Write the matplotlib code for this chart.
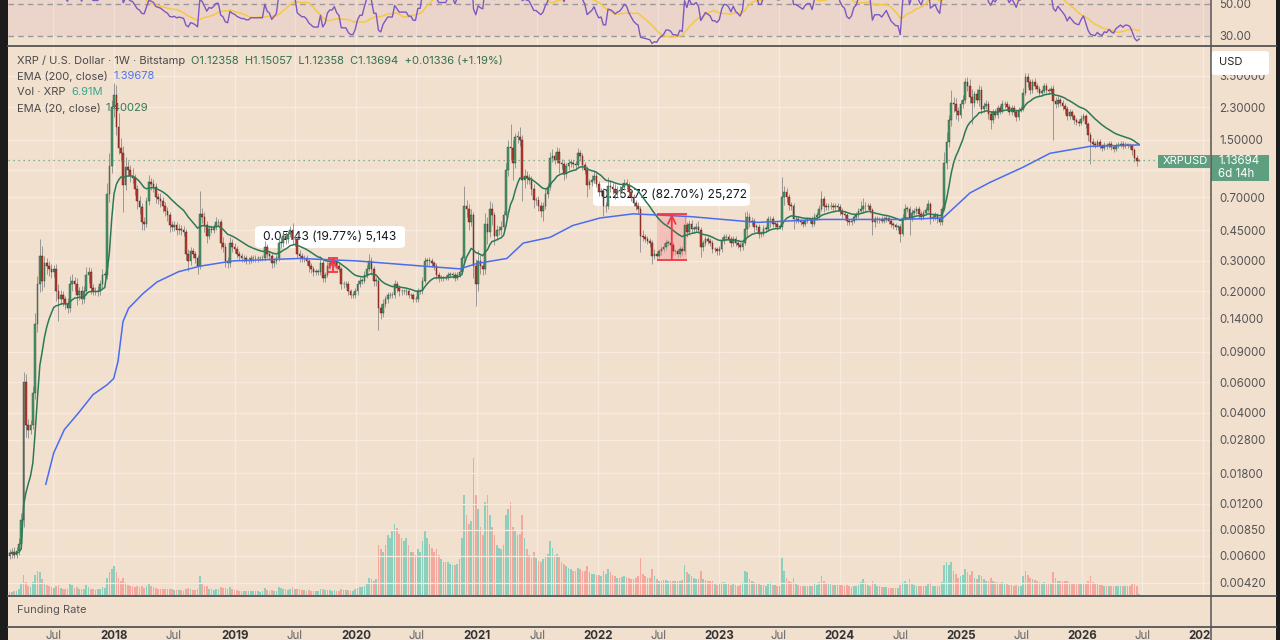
import numpy as np
import pandas as pd
import matplotlib
matplotlib.use("Agg")
import matplotlib.pyplot as plt
import matplotlib.dates as mdates
from matplotlib.patches import Rectangle, FancyBboxPatch
from matplotlib.ticker import NullLocator
from matplotlib.transforms import blended_transform_factory

plt.rcParams['font.family'] = ['Inter', 'DejaVu Sans']

# weekly candles, one tuple per week: (close, upper wick %, lower wick %, volume M XRP)
start_date = "2017-02-20"
first_open = 0.0060

w2017 = [(0.0062, 6, 4, 20), (0.0063, 5, 6, 22), (0.0061, 7, 5, 25), (0.0064, 5, 4, 30),
         (0.0070, 8, 5, 45), (0.0096, 10, 6, 80), (0.060, 15, 8, 140), (0.034, 12, 15, 90),
         (0.032, 8, 10, 60), (0.034, 7, 6, 55), (0.052, 10, 5, 90), (0.13, 15, 8, 140),
         (0.22, 12, 10, 170), (0.32, 25, 10, 160), (0.23, 15, 12, 110), (0.29, 10, 8, 80),
         (0.28, 8, 10, 70), (0.27, 7, 9, 60), (0.26, 6, 8, 55), (0.27, 5, 7, 50),
         (0.20, 6, 12, 60), (0.18, 10, 25, 70), (0.19, 8, 6, 50), (0.18, 6, 8, 45),
         (0.17, 5, 7, 40), (0.16, 8, 6, 45), (0.22, 12, 5, 80), (0.23, 10, 8, 70),
         (0.22, 6, 8, 50), (0.19, 8, 12, 55), (0.20, 6, 6, 40), (0.18, 7, 6, 40),
         (0.20, 8, 5, 45), (0.25, 10, 5, 70), (0.26, 6, 10, 55), (0.21, 5, 8, 45),
         (0.20, 5, 5, 40), (0.20, 6, 5, 38), (0.20, 7, 6, 40), (0.22, 6, 5, 42),
         (0.25, 8, 5, 55), (0.25, 5, 6, 50), (0.73, 15, 5, 120), (1.05, 20, 10, 160),
         (2.30, 10, 8, 180)]

w2018 = [(2.70, 18, 12, 200), (1.77, 15, 10, 160), (1.34, 20, 8, 120), (1.26, 15, 10, 100),
         (0.82, 10, 30, 120), (1.04, 15, 6, 90), (1.00, 8, 8, 70), (0.93, 7, 8, 60),
         (0.90, 10, 6, 60), (0.78, 6, 8, 55), (0.66, 5, 10, 60), (0.61, 8, 8, 55),
         (0.50, 6, 10, 60), (0.49, 8, 8, 50), (0.66, 6, 4, 60), (0.85, 10, 5, 80),
         (0.83, 6, 8, 60), (0.80, 7, 6, 55), (0.70, 5, 8, 50), (0.68, 6, 6, 45),
         (0.66, 8, 7, 45), (0.62, 6, 7, 45), (0.58, 5, 6, 40), (0.55, 6, 8, 40),
         (0.48, 5, 8, 45), (0.47, 6, 5, 40), (0.48, 6, 5, 35), (0.45, 5, 6, 35),
         (0.46, 6, 5, 32), (0.45, 5, 6, 32), (0.44, 6, 5, 30), (0.33, 4, 8, 45),
         (0.30, 6, 12, 50), (0.34, 6, 5, 40), (0.33, 5, 6, 35), (0.31, 4, 6, 35),
         (0.28, 5, 10, 40), (0.56, 35, 4, 130), (0.54, 8, 8, 80), (0.48, 6, 8, 60),
         (0.42, 6, 10, 60), (0.46, 5, 5, 45), (0.45, 5, 4, 40), (0.47, 4, 4, 38),
         (0.50, 8, 4, 45), (0.50, 5, 5, 40), (0.38, 4, 8, 55), (0.36, 8, 6, 50),
         (0.30, 5, 8, 50), (0.29, 6, 6, 45), (0.38, 8, 4, 55), (0.36, 6, 6, 40)]

w2019 = [(0.35, 6, 5, 35), (0.33, 5, 6, 32), (0.32, 4, 5, 30), (0.31, 4, 5, 28),
         (0.31, 4, 4, 28), (0.30, 4, 4, 26), (0.30, 5, 4, 26), (0.31, 5, 3, 28),
         (0.31, 4, 4, 26), (0.31, 4, 4, 25), (0.31, 3, 4, 25), (0.31, 3, 3, 24),
         (0.31, 4, 3, 25), (0.36, 8, 3, 50), (0.33, 4, 5, 35), (0.32, 4, 5, 30),
         (0.29, 4, 6, 32), (0.30, 4, 4, 28), (0.31, 5, 4, 30), (0.38, 10, 3, 55),
         (0.38, 8, 6, 50), (0.42, 6, 5, 45), (0.40, 5, 6, 40), (0.43, 4, 5, 38),
         (0.45, 6, 4, 45), (0.40, 10, 6, 55), (0.40, 6, 8, 45), (0.33, 4, 6, 45),
         (0.32, 5, 8, 40), (0.31, 4, 5, 35), (0.31, 5, 4, 32), (0.30, 4, 5, 30),
         (0.28, 3, 8, 32), (0.27, 4, 5, 30), (0.26, 4, 6, 30), (0.26, 3, 4, 28),
         (0.26, 4, 4, 28), (0.29, 10, 4, 45), (0.24, 5, 6, 40), (0.25, 4, 5, 32),
         (0.28, 5, 3, 35), (0.29, 4, 4, 32), (0.29, 5, 4, 30), (0.30, 5, 4, 32),
         (0.28, 4, 5, 30), (0.27, 4, 4, 28), (0.22, 3, 6, 40), (0.22, 4, 5, 35),
         (0.22, 4, 4, 32), (0.20, 4, 5, 32), (0.19, 4, 4, 30), (0.19, 4, 4, 30)]

w2020 = [(0.20, 5, 4, 40), (0.22, 6, 4, 50), (0.23, 5, 4, 55), (0.23, 4, 4, 55),
         (0.25, 5, 3, 65), (0.27, 5, 4, 80), (0.30, 10, 3, 120), (0.27, 6, 8, 110),
         (0.23, 4, 6, 100), (0.23, 5, 6, 110), (0.16, 4, 25, 350), (0.15, 6, 8, 320),
         (0.17, 6, 5, 300), (0.18, 4, 4, 350), (0.19, 5, 5, 420), (0.19, 4, 4, 400),
         (0.19, 5, 4, 450), (0.22, 6, 3, 500), (0.21, 5, 5, 470), (0.20, 4, 6, 430),
         (0.20, 4, 4, 400), (0.20, 4, 3, 380), (0.20, 5, 4, 400), (0.19, 4, 4, 350),
         (0.19, 3, 4, 300), (0.18, 3, 4, 300), (0.18, 4, 3, 280), (0.20, 5, 3, 320),
         (0.20, 3, 3, 300), (0.23, 6, 3, 380), (0.30, 6, 3, 450), (0.30, 4, 6, 400),
         (0.30, 5, 5, 360), (0.29, 4, 5, 330), (0.28, 4, 5, 300), (0.25, 4, 6, 320),
         (0.24, 4, 5, 280), (0.24, 4, 4, 250), (0.24, 3, 4, 230), (0.24, 4, 3, 230),
         (0.25, 4, 3, 230), (0.25, 3, 3, 220), (0.25, 3, 4, 210), (0.24, 3, 4, 210),
         (0.25, 4, 3, 220), (0.26, 4, 3, 250), (0.31, 5, 3, 400), (0.62, 30, 4, 700),
         (0.60, 8, 10, 560), (0.50, 6, 10, 500), (0.55, 8, 5, 520), (0.28, 4, 15, 960)]

w2021 = [(0.22, 10, 25, 700), (0.30, 15, 8, 600), (0.28, 8, 10, 480), (0.27, 6, 8, 420),
         (0.49, 15, 6, 650), (0.44, 10, 15, 700), (0.60, 10, 6, 560), (0.55, 8, 12, 480),
         (0.42, 5, 12, 420), (0.45, 8, 6, 350), (0.45, 6, 6, 330), (0.47, 8, 6, 320),
         (0.55, 6, 5, 350), (1.00, 10, 4, 560), (1.36, 10, 8, 600), (1.35, 35, 15, 650),
         (1.10, 10, 20, 480), (1.55, 6, 6, 450), (1.55, 8, 8, 420), (1.50, 15, 8, 430),
         (0.88, 6, 25, 560), (0.92, 10, 10, 400), (0.90, 8, 8, 320), (0.88, 6, 6, 280),
         (0.78, 5, 8, 260), (0.67, 6, 10, 300), (0.67, 5, 6, 260), (0.62, 6, 6, 240),
         (0.58, 5, 8, 230), (0.62, 6, 12, 250), (0.73, 8, 4, 270), (0.80, 6, 5, 290),
         (1.18, 8, 4, 380), (1.20, 10, 6, 330), (1.15, 6, 6, 280), (1.28, 6, 5, 290),
         (1.10, 5, 12, 270), (1.08, 6, 6, 230), (0.95, 4, 8, 220), (1.05, 5, 5, 200),
         (1.10, 6, 4, 190), (1.10, 5, 5, 180), (1.08, 4, 5, 170), (1.07, 5, 6, 170),
         (1.25, 8, 3, 190), (1.20, 5, 6, 180), (1.07, 4, 6, 170), (1.00, 4, 5, 170),
         (0.82, 5, 15, 200), (0.85, 5, 5, 160), (0.88, 6, 5, 150), (0.93, 6, 4, 150)]

w2022 = [(0.83, 6, 4, 140), (0.75, 4, 6, 140), (0.76, 4, 5, 130), (0.62, 4, 12, 170),
         (0.62, 6, 8, 150), (0.81, 12, 4, 180), (0.80, 8, 6, 160), (0.78, 6, 6, 140),
         (0.74, 6, 8, 130), (0.76, 6, 5, 120), (0.77, 5, 5, 120), (0.80, 5, 4, 125),
         (0.84, 6, 4, 130), (0.82, 6, 5, 125), (0.75, 4, 5, 120), (0.70, 4, 5, 115),
         (0.65, 4, 5, 115), (0.62, 4, 5, 120), (0.60, 5, 6, 130), (0.42, 4, 20, 260),
         (0.41, 8, 5, 150), (0.40, 5, 4, 130), (0.39, 4, 4, 120), (0.38, 4, 5, 120),
         (0.32, 4, 10, 180), (0.33, 6, 4, 130), (0.32, 4, 4, 110), (0.34, 4, 3, 100),
         (0.35, 4, 5, 100), (0.36, 6, 4, 105), (0.38, 5, 4, 105), (0.38, 4, 4, 100),
         (0.37, 5, 4, 95), (0.34, 4, 5, 100), (0.34, 4, 4, 95), (0.33, 4, 4, 95),
         (0.35, 5, 4, 100), (0.34, 4, 4, 105), (0.48, 15, 3, 210), (0.44, 5, 6, 160),
         (0.49, 6, 4, 150), (0.46, 5, 6, 130), (0.46, 4, 5, 120), (0.47, 5, 4, 110),
         (0.45, 8, 4, 115), (0.36, 4, 12, 170), (0.38, 4, 5, 115), (0.40, 4, 4, 105),
         (0.39, 4, 4, 100), (0.38, 4, 4, 95), (0.35, 4, 5, 95), (0.35, 3, 4, 85)]

w2023 = [(0.34, 3, 4, 70), (0.35, 4, 4, 75), (0.39, 6, 3, 90), (0.41, 5, 4, 90),
         (0.41, 4, 4, 80), (0.40, 4, 4, 75), (0.38, 4, 5, 70), (0.40, 5, 4, 80),
         (0.38, 4, 4, 70), (0.37, 4, 4, 65), (0.36, 4, 5, 70), (0.38, 6, 4, 90),
         (0.46, 25, 3, 170), (0.54, 8, 10, 160), (0.50, 5, 6, 110), (0.51, 6, 4, 100),
         (0.47, 4, 6, 90), (0.47, 4, 4, 80), (0.43, 4, 5, 75), (0.43, 4, 4, 70),
         (0.46, 5, 3, 70), (0.46, 4, 4, 65), (0.52, 5, 3, 80), (0.52, 5, 10, 90),
         (0.49, 5, 4, 70), (0.49, 4, 4, 70), (0.47, 4, 4, 65), (0.47, 4, 3, 65),
         (0.70, 30, 4, 260), (0.75, 8, 10, 170), (0.70, 5, 6, 120), (0.63, 4, 6, 100),
         (0.62, 4, 5, 90), (0.52, 4, 12, 120), (0.52, 4, 4, 80), (0.51, 4, 3, 70),
         (0.50, 3, 4, 65), (0.49, 3, 4, 60), (0.51, 3, 3, 60), (0.52, 3, 3, 60),
         (0.52, 3, 4, 60), (0.49, 4, 4, 65), (0.54, 5, 3, 75), (0.55, 4, 4, 70),
         (0.60, 5, 3, 90), (0.68, 12, 3, 130), (0.62, 5, 8, 100), (0.61, 4, 4, 80),
         (0.62, 4, 4, 75), (0.62, 5, 4, 75), (0.61, 4, 5, 70), (0.62, 4, 4, 70)]

w2024 = [(0.61, 4, 4, 70), (0.58, 4, 5, 70), (0.56, 4, 5, 70), (0.55, 4, 4, 65),
         (0.51, 3, 5, 70), (0.50, 3, 4, 60), (0.51, 3, 3, 55), (0.54, 4, 3, 60),
         (0.55, 4, 4, 60), (0.58, 5, 3, 70), (0.60, 10, 3, 90), (0.62, 12, 6, 110),
         (0.62, 5, 8, 90), (0.62, 4, 4, 70), (0.59, 4, 4, 65), (0.50, 3, 15, 100),
         (0.52, 4, 6, 80), (0.52, 4, 4, 65), (0.52, 3, 5, 60), (0.51, 4, 3, 55),
         (0.52, 4, 3, 55), (0.53, 4, 3, 55), (0.51, 3, 4, 50), (0.49, 3, 4, 50),
         (0.48, 3, 4, 50), (0.47, 3, 4, 50), (0.47, 3, 4, 50), (0.43, 4, 10, 70),
         (0.53, 6, 3, 90), (0.60, 6, 3, 100), (0.60, 4, 4, 80), (0.53, 4, 20, 110),
         (0.57, 5, 4, 80), (0.58, 4, 4, 70), (0.60, 4, 4, 65), (0.56, 4, 5, 65),
         (0.54, 4, 4, 60), (0.57, 4, 3, 60), (0.59, 4, 3, 65), (0.64, 5, 3, 75),
         (0.53, 3, 8, 90), (0.54, 4, 4, 65), (0.55, 4, 4, 65), (0.52, 3, 5, 60),
         (0.50, 3, 4, 60), (0.60, 4, 3, 90), (1.10, 15, 3, 210), (1.45, 15, 8, 230),
         (1.95, 6, 6, 210), (2.45, 18, 8, 230), (2.40, 8, 10, 170), (2.20, 8, 10, 150)]

w2025 = [(2.08, 5, 8, 120), (2.40, 6, 4, 130), (2.55, 6, 5, 140), (3.20, 6, 4, 180),
         (3.05, 8, 6, 160), (2.65, 10, 8, 140), (2.45, 10, 25, 170), (2.75, 4, 6, 120),
         (2.55, 6, 4, 110), (2.90, 6, 8, 140), (2.25, 5, 6, 130), (2.35, 5, 4, 110),
         (2.42, 5, 4, 100), (2.10, 4, 6, 95), (1.95, 4, 12, 120), (2.15, 5, 4, 100),
         (2.09, 4, 4, 90), (2.27, 5, 4, 90), (2.20, 4, 4, 85), (2.40, 5, 3, 90),
         (2.40, 4, 5, 80), (2.30, 4, 4, 75), (2.15, 4, 4, 70), (2.27, 4, 4, 70),
         (2.17, 4, 4, 65), (2.03, 4, 6, 70), (2.22, 4, 4, 65), (2.25, 4, 3, 65),
         (2.80, 6, 3, 130), (3.45, 5, 3, 170), (3.20, 5, 6, 140), (2.90, 4, 5, 120),
         (3.20, 4, 4, 110), (3.05, 6, 4, 105), (2.95, 4, 5, 95), (2.80, 4, 4, 90),
         (2.85, 3, 4, 85), (3.05, 4, 3, 90), (2.90, 4, 4, 85), (2.85, 3, 4, 80),
         (2.95, 4, 3, 80), (2.50, 5, 40, 160), (2.40, 5, 5, 120), (2.55, 5, 4, 100),
         (2.45, 4, 4, 95), (2.35, 4, 5, 95), (2.25, 4, 6, 95), (2.05, 4, 5, 100),
         (2.15, 4, 4, 90), (2.05, 3, 4, 85), (1.95, 3, 5, 85), (1.90, 3, 4, 80)]

w2026 = [(1.88, 4, 4, 75), (1.98, 5, 3, 80), (2.05, 4, 3, 80), (1.85, 3, 6, 85),
         (1.60, 3, 8, 100), (1.45, 3, 25, 130), (1.42, 5, 4, 90), (1.40, 4, 4, 80),
         (1.45, 4, 3, 75), (1.38, 4, 4, 70), (1.35, 3, 4, 70), (1.40, 4, 3, 65),
         (1.38, 3, 4, 65), (1.42, 4, 3, 65), (1.36, 3, 4, 60), (1.33, 3, 4, 60),
         (1.38, 4, 3, 60), (1.40, 4, 3, 60), (1.42, 3, 3, 60), (1.38, 3, 4, 60),
         (1.40, 4, 3, 60), (1.40, 3, 4, 65), (1.38, 3, 4, 65), (1.30, 3, 6, 80),
         (1.18, 3, 5, 75), (1.12358, 3, 6, 65), (1.13694, 1.2, 0, 6.91)]

# EMA 200
ema200_dates = ["2017-06-09", "2017-07-03", "2017-08-04", "2017-09-16", "2017-10-30",
                "2017-12-11", "2017-12-31", "2018-01-13", "2018-01-28", "2018-02-14",
                "2018-03-30", "2018-05-11", "2018-07-15", "2018-09-18", "2018-12-26",
                "2019-07-16", "2020-01-04", "2020-07-21", "2020-11-10", "2021-01-01",
                "2021-04-01", "2021-05-20", "2021-08-09", "2021-10-17", "2022-01-07",
                "2022-04-17", "2022-10-06", "2023-04-26", "2023-11-11", "2024-07-01",
                "2024-11-07", "2025-01-28", "2025-03-29", "2025-07-07", "2025-09-26",
                "2026-01-24", "2026-06-22"]
ema200_vals = [0.0155, 0.0235, 0.032, 0.040, 0.051,
               0.058, 0.063, 0.079, 0.134, 0.16,
               0.195, 0.227, 0.26, 0.28, 0.30,
               0.31, 0.30, 0.28, 0.27, 0.29,
               0.31, 0.38, 0.41, 0.48, 0.53,
               0.56, 0.54, 0.50, 0.52, 0.52,
               0.53, 0.74, 0.85, 1.04, 1.25,
               1.37, 1.397]

price_ticks = [0.0042, 0.006, 0.0085, 0.012, 0.018, 0.028, 0.04, 0.06, 0.09,
               0.14, 0.2, 0.3, 0.45, 0.7, 1.5, 2.3, 3.5]
last_price = 1.13694

BG = "#f2e0cf"
GRID = "#f7ebdf"
UP, DOWN = "#4a9a6b", "#bf3b2f"
W, H = 1280, 640
FS = 8.0


def box(x0, y0, x1, y1):
    return [x0 / W, 1 - y1 / H, (x1 - x0) / W, (y1 - y0) / H]


def ftext(target, x, y, s, **kw):
    kw.setdefault("va", "center")
    return target.text(x / W, 1 - y / H, s, transform=fig.transFigure, **kw)


weeks = w2017 + w2018 + w2019 + w2020 + w2021 + w2022 + w2023 + w2024 + w2025 + w2026
closes = np.array([w[0] for w in weeks])
up_pct = np.array([w[1] for w in weeks]) / 100
dn_pct = np.array([w[2] for w in weeks]) / 100
volume = np.array([w[3] for w in weeks])
dates = pd.date_range(start_date, periods=len(weeks), freq="7D")
x = mdates.date2num(dates)
opens = np.r_[first_open, closes[:-1]]
top = np.maximum(opens, closes)
bot = np.minimum(opens, closes)
highs = top * (1 + up_pct)
lows = bot * (1 - dn_pct)
rising = closes >= opens

ema20 = pd.Series(closes).ewm(span=20, adjust=False).mean().values
delta = pd.Series(closes).diff()
gain = delta.clip(lower=0).ewm(alpha=1 / 14, adjust=False).mean()
loss = (-delta.clip(upper=0)).ewm(alpha=1 / 14, adjust=False).mean()
rsi = 100 - 100 / (1 + gain / loss)
rsi_ma = rsi.rolling(14).mean()

xmin = mdates.date2num(pd.Timestamp("2017-02-15"))
xmax = mdates.date2num(pd.Timestamp("2027-01-25"))

fig = plt.figure(figsize=(12.8, 6.4), dpi=100, facecolor=BG)

ax_rsi = fig.add_axes(box(8, 0, 1211, 46), facecolor=BG)
ax_vol = fig.add_axes(box(8, 47, 1211, 595), facecolor=BG)
ax = fig.add_axes(box(8, 47, 1211, 595), facecolor="none")
ax_fund = fig.add_axes(box(8, 596, 1211, 626), facecolor=BG)
ax_time = fig.add_axes(box(8, 627, 1211, 640), facecolor=BG)

year_ticks = [pd.Timestamp(f"{y}-01-01") for y in range(2018, 2028)]
jul_ticks = [pd.Timestamp(f"{y}-07-01") for y in range(2017, 2027)]
vgrid = mdates.date2num(year_ticks + jul_ticks)

for a in (ax_rsi, ax_vol, ax, ax_fund, ax_time):
    a.set_xlim(xmin, xmax)
    for s in a.spines.values():
        s.set_visible(False)
    a.tick_params(axis="x", which="both", length=0, labelbottom=False)
for a in (ax_vol, ax_fund, ax_time):
    a.set_yticks([])

for v in vgrid:
    ax_vol.axvline(v, color=GRID, lw=0.9, zorder=0)
    ax_rsi.axvline(v, color=GRID, lw=0.9, zorder=0)

# volume
vcol = np.where(rising, "#8ccfbd", "#f3a79d")
ax_vol.bar(x, volume, width=5, color=vcol, linewidth=0, zorder=2)
ax_vol.set_ylim(0, 3840)

# price
ax.set_yscale("log")
ax.set_ylim(0.00357, 5.12)
for t in price_ticks + [1.0]:
    ax.axhline(t, color=GRID, lw=0.9, zorder=0)
ax.yaxis.tick_right()
ax.yaxis.set_minor_locator(NullLocator())
ax.set_yticks(price_ticks)
ax.set_yticklabels([f"{t:.5f}" for t in price_ticks])
ax.tick_params(axis="y", length=0, pad=6, labelsize=8.3, labelcolor="#555555")

ax.vlines(x, lows, highs, color="#8a8a8a", lw=0.6, zorder=3)
body = np.maximum(top - bot, top * 0.008)
ax.bar(x, body, bottom=bot, width=5, color=np.where(rising, UP, DOWN),
       edgecolor=np.where(rising, "#24482f", "#4d1a15"), linewidth=0.3, zorder=3.5)

ax.plot(x, ema20, color="#2c7a55", lw=1.1, zorder=4)
ax.plot(mdates.date2num(pd.to_datetime(ema200_dates)), ema200_vals,
        color="#4a6cf0", lw=1.1, zorder=4)
ax.axhline(last_price, color="#5e9f80", lw=0.9, ls=(0, (1, 3)), zorder=4)

# price range measurements
r1 = (pd.Timestamp("2019-10-09"), pd.Timestamp("2019-11-08"), 0.2601, 0.3116)
r2 = (pd.Timestamp("2022-06-27"), pd.Timestamp("2022-09-26"), 0.3056, 0.5583)
for d0, d1, lo, hi in (r1, r2):
    a0, a1 = mdates.date2num(d0), mdates.date2num(d1)
    ax.add_patch(Rectangle((a0, lo), a1 - a0, hi - lo, facecolor="#f59a9a",
                           alpha=0.45, linewidth=0, zorder=3.2))
    ax.hlines([lo, hi], a0, a1, color="#f23645", lw=1.3, zorder=4.2)
    mid = (a0 + a1) / 2
    ax.annotate("", xy=(mid, hi), xytext=(mid, lo),
                arrowprops=dict(arrowstyle="->", color="#f23645", lw=1.3,
                                mutation_scale=14, shrinkA=0, shrinkB=0),
                zorder=4.2)

for (bx0, by0, bx1, by1, label) in ((255, 226, 405, 248, "0.05143 (19.77%) 5,143"),
                                    (593, 183, 750, 206, "0.25272 (82.70%) 25,272")):
    ax.add_patch(FancyBboxPatch((bx0 / W, 1 - by1 / H), (bx1 - bx0) / W, (by1 - by0) / H,
                                boxstyle="round,pad=0,rounding_size=0.005",
                                transform=fig.transFigure, facecolor="white",
                                edgecolor="none", zorder=2))
    ftext(ax, bx0 + 8, (by0 + by1) / 2, label, fontsize=8.6, color="#131722", zorder=2.1)

# legend
ftext(ax, 17, 61, "XRP / U.S. Dollar · 1W · Bitstamp", fontsize=FS, color="#4a4a4a", zorder=1)
ftext(ax, 191, 61, "O1.12358  H1.15057  L1.12358  C1.13694  +0.01336 (+1.19%)",
      fontsize=FS, color="#2f6e4f", zorder=1)
ftext(ax, 17, 76, "EMA (200, close)", fontsize=FS, color="#4a4a4a", zorder=1)
ftext(ax, 113, 76, "1.39678", fontsize=FS, color="#4d74f0", zorder=1)
ftext(ax, 17, 92, "Vol · XRP", fontsize=FS, color="#4a4a4a", zorder=1)
ftext(ax, 71, 92, "6.91M", fontsize=FS, color="#36a58f", zorder=1)
ftext(ax, 17, 108, "EMA (20, close)", fontsize=FS, color="#4a4a4a", zorder=1)
ftext(ax, 106, 108, "1.40029", fontsize=FS, color="#2c7a55", zorder=1)

# RSI panel
ax_rsi.set_ylim(23.75, 52.5)
ax_rsi.axhspan(30, 70, color="#c08fb0", alpha=0.13, lw=0, zorder=0.5)
ax_rsi.axhline(50, color="#9a9a9a", lw=1, ls=(0, (4, 3)), zorder=1)
ax_rsi.axhline(30, color="#9a9a9a", lw=1, ls=(0, (4, 3)), zorder=1)
ax_rsi.plot(x, rsi_ma, color="#f5c842", lw=1.1, zorder=2)
ax_rsi.plot(x, rsi, color="#7e57c2", lw=1.0, zorder=3)
ax_rsi.yaxis.tick_right()
ax_rsi.set_yticks([30, 50])
ax_rsi.set_yticklabels(["30.00", "50.00"])
ax_rsi.tick_params(axis="y", length=0, pad=6, labelsize=8.3, labelcolor="#555555")

ftext(ax_fund, 17, 610, "Funding Rate", fontsize=FS, color="#555555")

# time axis
tt = blended_transform_factory(ax_time.transData, ax_time.transAxes)
for d in year_ticks:
    ax_time.text(mdates.date2num(d), 0.3, str(d.year), transform=tt, ha="center",
                 va="center", fontsize=8.3, color="#333333", fontweight="bold", clip_on=True)
for d in jul_ticks:
    ax_time.text(mdates.date2num(d), 0.3, "Jul", transform=tt, ha="center",
                 va="center", fontsize=8.3, color="#666666", clip_on=True)

# frame lines and borders
for yy in (46, 595.5, 626.5):
    fig.add_artist(plt.Line2D([8 / W, 1276 / W], [1 - yy / H] * 2, color="#555555",
                              lw=1.3, transform=fig.transFigure))
fig.add_artist(plt.Line2D([1211 / W] * 2, [0, 1], color="#555555", lw=1.1,
                          transform=fig.transFigure))
fig.add_artist(Rectangle((0, 0), 8 / W, 1, transform=fig.transFigure,
                         facecolor="#1c1c1c", edgecolor="none"))
fig.add_artist(Rectangle((1276 / W, 0), 4 / W, 1, transform=fig.transFigure,
                         facecolor="#1c1c1c", edgecolor="none"))

# USD box (hides the top tick label partly) and last price labels
fig.add_artist(FancyBboxPatch((1211 / W, 1 - 75 / H), 58 / W, 24 / H,
                              boxstyle="round,pad=0,rounding_size=0.004",
                              transform=fig.transFigure, facecolor="white", edgecolor="none"))
ftext(fig, 1219, 62, "USD", fontsize=FS, color="#222222")
fig.add_artist(Rectangle((1158 / W, 1 - 168 / H), 52 / W, 13 / H, transform=fig.transFigure,
                         facecolor="#5e9f80", edgecolor="none"))
fig.add_artist(Rectangle((1211 / W, 1 - 181 / H), 58 / W, 26 / H, transform=fig.transFigure,
                         facecolor="#5e9f80", edgecolor="none"))
ftext(fig, 1163, 161.5, "XRPUSD", fontsize=FS, color="white")
ftext(fig, 1218, 161.5, "1.13694", fontsize=8.3, color="white")
ftext(fig, 1218, 174, "6d 14h", fontsize=8.3, color="white")

fig.savefig("out.png", dpi=100, facecolor=BG)
